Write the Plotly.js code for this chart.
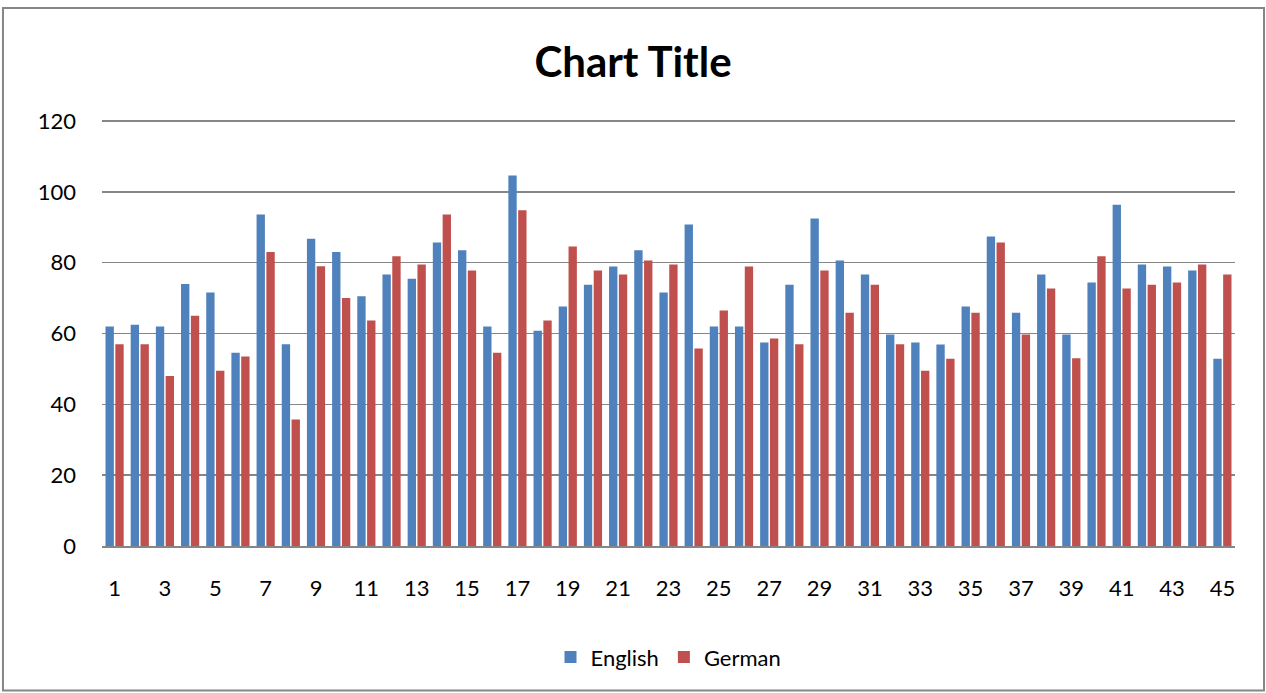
<!DOCTYPE html>
<html>
<head>
<meta charset="utf-8">
<script src="https://cdn.plot.ly/plotly-3.0.1.min.js"></script>
<style>html,body{margin:0;padding:0;background:#fff;}#chart{width:1266px;height:693px;}</style>
</head>
<body>
<div id="chart"></div>
<script>
const categories = [1,2,3,4,5,6,7,8,9,10,11,12,13,14,15,16,17,18,19,20,21,22,23,24,25,26,27,28,29,30,31,32,33,34,35,36,37,38,39,40,41,42,43,44,45];
const english = [62,62.5,62,74,71.6,54.6,93.6,57,86.8,83,70.5,76.7,75.5,85.7,83.5,62,104.6,60.8,67.6,73.8,78.9,83.5,71.6,90.8,62,62,57.5,73.8,92.5,80.6,76.7,59.7,57.5,56.9,67.6,87.4,65.9,76.7,59.7,74.4,96.4,79.5,78.9,77.8,52.9];
const german = [57,57,48,65,49.5,53.5,83,35.7,79,70,63.7,81.8,79.5,93.6,77.8,54.6,94.8,63.7,84.6,77.8,76.7,80.6,79.5,55.8,66.5,78.9,58.6,57,77.8,65.9,73.8,57,49.5,52.9,65.9,85.7,59.7,72.7,53,81.8,72.7,73.8,74.4,79.5,76.7];
const tickLabels = ["1","3","5","7","9","11","13","15","17","19","21","23","25","27","29","31","33","35","37","39","41","43","45"];
const yTicks = [0,20,40,60,80,100,120];

const font = "Lato, 'Open Sans', 'DejaVu Sans', sans-serif";
const traces = [
  {type:'bar', name:'English', x:categories, y:english, marker:{color:'#4F81BD'}},
  {type:'bar', name:'German', x:categories, y:german, marker:{color:'#C0504D'}}
];
const layout = {
  width:1266, height:693,
  paper_bgcolor:'#fff', plot_bgcolor:'#fff',
  margin:{l:102, r:31, t:120, b:147},
  barmode:'group', bargap:0.22, bargroupgap:0.15,
  title:{text:'<b>Chart Title</b>', x:0.5, xanchor:'center', y:0.91, yanchor:'middle', font:{family:font, size:42, color:'#000'}},
  xaxis:{range:[0.5,45.5], tickmode:'array', tickvals:tickLabels.map(Number), ticktext:tickLabels,
         showgrid:false, zeroline:false, showline:true, linecolor:'#868686', linewidth:2,
         ticks:'', tickfont:{family:font, size:22, color:'#000'}, ticklabelstandoff:22},
  yaxis:{range:[0,120.3], tickvals:yTicks, showgrid:true, gridcolor:'#868686', gridwidth:1.5,
         zeroline:false, showline:false, ticks:'', tickfont:{family:font, size:22, color:'#000'}, ticklabelstandoff:25},
  legend:{orientation:'h', x:0.5, xanchor:'center', y:-0.261, yanchor:'middle', font:{family:font, size:22, color:'#000'}, itemwidth:30},
  shapes:[{type:'rect', xref:'paper', yref:'paper', x0:-0.0874, x1:1.0256, y0:-0.339, y1:1.263, line:{color:'#868686', width:2}, layer:'below'}],
  showlegend:true
};
Plotly.newPlot('chart', traces, layout, {displayModeBar:false, staticPlot:true});
</script>
</body>
</html>
